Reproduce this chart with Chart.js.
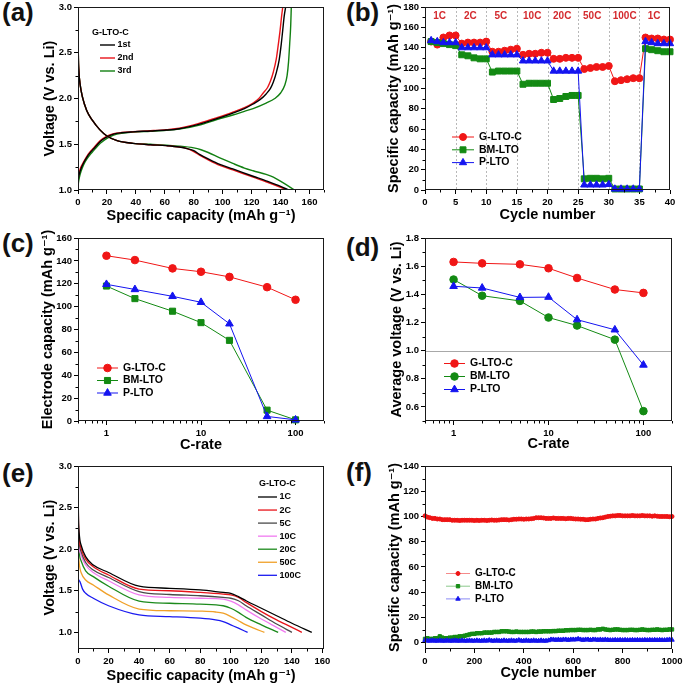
<!DOCTYPE html>
<html><head><meta charset="utf-8">
<script src="https://cdn.jsdelivr.net/npm/chart.js@4.4.1/dist/chart.umd.min.js"></script>
<style>
html,body{margin:0;padding:0;background:#fff;width:685px;height:687px;overflow:hidden;position:relative}
canvas{position:absolute;left:0;top:0}
.lbl{position:absolute;font:bold 26px "Liberation Sans",Arial,sans-serif;color:#111;line-height:26px;white-space:nowrap}
</style></head><body>
<div class="lbl" style="left:2px;top:-1px">(a)</div>
<div class="lbl" style="left:346px;top:-1px">(b)</div>
<div class="lbl" style="left:2px;top:230px">(c)</div>
<div class="lbl" style="left:346px;top:234px">(d)</div>
<div class="lbl" style="left:2px;top:460px">(e)</div>
<div class="lbl" style="left:346px;top:459px">(f)</div>
<canvas id="ca" width="685" height="687"></canvas>
<canvas id="cb" width="685" height="687"></canvas>
<canvas id="cc" width="685" height="687"></canvas>
<canvas id="cd" width="685" height="687"></canvas>
<canvas id="ce" width="685" height="687"></canvas>
<canvas id="cf" width="685" height="687"></canvas>
<script>
// ---------------- DATA ----------------
// (a) charge/discharge profiles of G-LTO-C, cycles 1-3
const aDis1Cap = [0, 0.2, 0.6, 1.5, 3, 6, 10, 15, 20, 27, 38, 50, 61, 70, 76, 80, 84, 90, 98, 107, 121, 130, 140, 145.5];
const aDis1V   = [2.9, 2.5, 2.3, 2.15, 2.02, 1.87, 1.76, 1.66, 1.59, 1.54, 1.51, 1.495, 1.485, 1.47, 1.45, 1.43, 1.39, 1.34, 1.28, 1.23, 1.15, 1.10, 1.04, 1.0];
const aDis2Cap = [0, 0.2, 0.6, 1.5, 3, 6, 10, 15, 20, 27, 38, 50, 61, 70, 76, 80, 84, 90, 98, 107, 121, 130, 140, 144.5];
const aDis2V   = [2.9, 2.5, 2.3, 2.15, 2.02, 1.87, 1.76, 1.66, 1.59, 1.54, 1.51, 1.495, 1.485, 1.47, 1.45, 1.42, 1.38, 1.33, 1.27, 1.22, 1.14, 1.09, 1.03, 1.0];
const aDis3Cap = [0, 0.2, 0.6, 1.5, 3, 6, 10, 15, 20, 27, 38, 50, 61, 70, 80, 85, 90, 98, 107, 115, 121, 130, 135, 141.6, 149.7];
const aDis3V   = [2.9, 2.5, 2.3, 2.15, 2.02, 1.87, 1.76, 1.66, 1.59, 1.54, 1.51, 1.50, 1.49, 1.48, 1.46, 1.44, 1.41, 1.35, 1.29, 1.24, 1.21, 1.17, 1.14, 1.08, 1.0];
const aChg1Cap = [0, 0.3, 1, 2, 4, 6.2, 8, 10.8, 15.4, 20, 24.6, 30, 38, 50, 61, 70, 84, 96, 107, 115, 121, 126, 130, 133, 135, 137, 139, 140.5, 141.5, 142.5, 143.5];
const aChg1V   = [1.08, 1.13, 1.18, 1.23, 1.30, 1.36, 1.40, 1.45, 1.53, 1.58, 1.61, 1.625, 1.635, 1.645, 1.655, 1.67, 1.72, 1.78, 1.84, 1.89, 1.94, 1.99, 2.05, 2.11, 2.18, 2.28, 2.42, 2.6, 2.75, 2.9, 3.0];
const aChg2Cap = [0, 0.3, 1, 2, 4, 6.2, 8, 10.8, 15.4, 20, 24.6, 30, 38, 50, 61, 70, 84, 96, 107, 115, 121, 125, 128, 131, 133, 135, 137, 138.5, 139.7, 140.7, 141.5];
const aChg2V   = [1.10, 1.15, 1.20, 1.25, 1.31, 1.37, 1.41, 1.46, 1.54, 1.59, 1.615, 1.628, 1.637, 1.648, 1.66, 1.675, 1.73, 1.79, 1.85, 1.90, 1.95, 2.0, 2.06, 2.12, 2.19, 2.29, 2.43, 2.6, 2.75, 2.9, 3.0];
const aChg3Cap = [0, 0.3, 1, 2, 4, 6.2, 8, 10.8, 15.4, 20, 24.6, 30, 38, 50, 61, 70, 84, 96, 107, 115, 121, 130, 136, 140, 143, 144.5, 145.5, 146.3, 147, 147.4];
const aChg3V   = [1.03, 1.08, 1.14, 1.2, 1.28, 1.34, 1.38, 1.43, 1.51, 1.565, 1.60, 1.62, 1.632, 1.642, 1.652, 1.665, 1.71, 1.77, 1.82, 1.86, 1.89, 1.95, 2.0, 2.06, 2.15, 2.25, 2.4, 2.6, 2.8, 3.0];
const aCycleNames = ['1st', '2nd', '3rd'];
const aXTicks = [0, 20, 40, 60, 80, 100, 120, 140, 160];
const aYTicks = [1.0, 1.5, 2.0, 2.5, 3.0];

// (b) rate capability vs cycle number
const bCycles = [1,2,3,4,5,6,7,8,9,10,11,12,13,14,15,16,17,18,19,20,21,22,23,24,25,26,27,28,29,30,31,32,33,34,35,36,37,38,39,40];
const bGLTOC = [146,143,150,152,152, 144,145,145,145,146, 136,136,137,138,139, 133,134,134,135,135, 129,129,130,130,130, 119,120,121,121,122, 107,108,109,110,110, 150,149,149,148,148];
const bBMLTO = [146,145,144,143,142, 133,132,130,129,129, 116,117,117,117,117, 104,105,105,105,105, 89,90,92,93,93, 11,11.5,11.5,11,11.5, 1,1,1,1,1, 139,138,137,136,136];
const bPLTO  = [147,146,145,145,145, 140,140,140,140,140, 133,133,133,133,133, 127,127,127,127,127, 117,117,117,117,117, 5,5,5,5,5.5, 1,1,1,1,1, 146,145,144,144,144];
const bRateLabels = ['1C', '2C', '5C', '10C', '20C', '50C', '100C', '1C'];
const bRateCenters = [2.4, 7.4, 12.4, 17.5, 22.4, 27.3, 32.6, 37.4];
const bRateBounds = [5, 10, 15, 20, 25, 30, 35];
const bXTicks = [0, 5, 10, 15, 20, 25, 30, 35, 40];
const bYTicks = [0, 20, 40, 60, 80, 100, 120, 140, 160, 180];

// (c) electrode capacity vs C-rate
const cRates = [1, 2, 5, 10, 20, 50, 100];
const cGLTOC = [144.5, 140.7, 133.4, 130.5, 126, 117, 106];
const cBMLTO = [118, 107, 96, 86, 70.5, 9.5, 1];
const cPLTO  = [119.5, 115, 109, 103.8, 85, 4, 1];
const cXTicks = [1, 10, 100];
const cYTicks = [0, 20, 40, 60, 80, 100, 120, 140, 160];

// (d) average voltage vs C-rate
const dGLTOC = [1.63, 1.62, 1.613, 1.585, 1.516, 1.434, 1.41];
const dBMLTO = [1.505, 1.39, 1.353, 1.235, 1.178, 1.078, 0.57];
const dPLTO  = [1.457, 1.445, 1.378, 1.38, 1.22, 1.148, 0.898];
const dXTicks = [1, 10, 100];
const dYTicks = [0.6, 0.8, 1.0, 1.2, 1.4, 1.6, 1.8];

// (e) discharge profiles of G-LTO-C at different rates
const eRates = ['1C', '2C', '5C', '10C', '20C', '50C', '100C'];
const e1Cap = [0, 0.3, 1, 2, 5, 10, 20, 40, 60, 80, 95, 100, 105, 110, 120, 130, 140, 153];
const e1V   = [2.9, 2.4, 2.15, 2.05, 1.91, 1.81, 1.72, 1.555, 1.53, 1.51, 1.48, 1.47, 1.43, 1.38, 1.29, 1.20, 1.11, 1.0];
const e2Cap = [0, 0.3, 1, 2, 5, 10, 20, 40, 60, 80, 95, 100, 105, 110, 120, 130, 140, 146.5];
const e2V   = [2.85, 2.35, 2.1, 2.01, 1.88, 1.79, 1.69, 1.52, 1.50, 1.48, 1.46, 1.45, 1.42, 1.36, 1.25, 1.15, 1.06, 1.0];
const e5Cap = [0, 0.3, 1, 2, 5, 10, 20, 40, 60, 80, 95, 100, 105, 110, 120, 130, 140];
const e5V   = [2.5, 2.25, 2.05, 1.97, 1.84, 1.75, 1.66, 1.49, 1.455, 1.44, 1.42, 1.41, 1.38, 1.32, 1.21, 1.10, 1.0];
const e10Cap = [0, 0.3, 1, 2, 5, 10, 20, 40, 60, 80, 95, 100, 105, 110, 120, 130, 136];
const e10V   = [2.6, 2.2, 2.0, 1.93, 1.81, 1.72, 1.62, 1.45, 1.42, 1.41, 1.40, 1.375, 1.33, 1.27, 1.16, 1.06, 1.0];
const e20Cap = [0, 0.3, 1, 2, 5, 10, 20, 40, 60, 80, 95, 100, 105, 110, 120, 131];
const e20V   = [2.35, 2.1, 1.93, 1.86, 1.74, 1.67, 1.555, 1.375, 1.35, 1.34, 1.32, 1.29, 1.24, 1.18, 1.09, 1.0];
const e50Cap = [0, 0.3, 1, 2, 5, 10, 20, 40, 60, 80, 90, 95, 100, 105, 110, 115, 122];
const e50V   = [2.15, 1.95, 1.8, 1.72, 1.63, 1.57, 1.45, 1.28, 1.26, 1.255, 1.245, 1.23, 1.19, 1.14, 1.09, 1.05, 1.0];
const e100Cap = [0, 0.5, 1.5, 3, 5, 10, 20, 40, 60, 80, 90, 95, 100, 105, 111];
const e100V   = [1.65, 1.63, 1.6, 1.52, 1.47, 1.41, 1.32, 1.21, 1.19, 1.17, 1.15, 1.13, 1.09, 1.05, 1.0];
const eXTicks = [0, 20, 40, 60, 80, 100, 120, 140, 160];
const eYTicks = [1.0, 1.5, 2.0, 2.5, 3.0];

// (f) long-term cycling (every 10th cycle)
const fCycles = [0,10,20,30,40,50,60,70,80,90,
  100,110,120,130,140,150,160,170,180,190,
  200,210,220,230,240,250,260,270,280,290,
  300,310,320,330,340,350,360,370,380,390,
  400,410,420,430,440,450,460,470,480,490,
  500,510,520,530,540,550,560,570,580,590,
  600,610,620,630,640,650,660,670,680,690,
  700,710,720,730,740,750,760,770,780,790,
  800,810,820,830,840,850,860,870,880,890,
  900,910,920,930,940,950,960,970,980,990,1000];
const fGLTOC = [100.5,99.5,99,98.5,98.5,98,98,97.5,97.5,97.5,
  97.5,97,97,97,96.8,97,97,97,97,97,
  96.8,97,96.8,97,97,96.8,97,97.2,97,97,
  97.2,97.5,97.5,97.5,97.2,97.5,97.8,97.8,98,98,
  97.8,98,98,98.2,98.5,99,99,99,98.8,98.5,
  98.5,98.5,98.8,98.5,98.5,98.5,98.5,98.2,98.5,98.5,
  98.2,98,98,97.8,97.8,97.5,97.5,97.8,98,98,
  98.5,98.8,99,99.5,100,100.2,100.5,100.5,100.8,100.8,
  100.5,100.5,100.5,100.5,100.8,100.5,100.5,100.5,100.8,100.5,
  100.5,100.5,100.2,100.5,100.2,100,100,100,100,99.8,100];
const fBMLTO = [3,3.5,3,3,3.5,3.5,5,4,3.5,3.5,
  4,4,4.5,4.5,5,5,5.5,6,6.5,7,
  7,7.5,7.5,7.5,8,8,8,8,8.5,8.5,
  8.5,9,9,9,8.8,8.5,8.5,8.8,8.5,8.5,
  8.5,8.5,8.5,8.8,8.8,8.5,8.8,8.8,9,9,
  9,9,9.2,9.2,9.5,9.5,9.5,9.8,9.8,10,
  10,10,10.2,10.2,10,10,10,10.2,10,10,
  10.5,10.5,11,10.5,10.2,10,10.2,10.5,10.5,10.2,
  10,10,10,10.2,10.2,10,10,10.2,10.5,10.2,
  10,10,10.2,10.2,10.5,10.2,10,10.2,10.2,10.5,10.5];
const fPLTO = [2,1.5,1.5,1.8,1.5,1.5,1.8,1.5,1.5,1.8,
  1.5,1.5,1.8,1.5,1.5,1.8,1.5,1.5,1.8,1.5,
  1.5,1.8,1.5,1.5,1.8,1.5,2,1.5,1.5,1.8,
  1.5,1.5,1.8,1.5,1.5,1.8,1.5,1.5,2,1.5,
  1.5,1.8,1.5,1.5,1.8,1.5,1.5,1.8,1.5,1.5,
  1.8,2.5,2.5,2.2,2.5,2.2,2.5,2.5,2.2,2.5,
  2.5,2.5,3,2.5,2.2,2.5,2.5,2.2,2.5,2.5,
  2.2,2.5,2.2,2.5,2.2,2,2,2.2,2,2.2,
  2,2.2,2,2,2.2,2,2.2,2,2,2.2,
  2,2.2,2,2.2,2,2.2,2,2,2.2,2.5,2.2];
const fXTicks = [0, 200, 400, 600, 800, 1000];
const fYTicks = [0, 20, 40, 60, 80, 100, 120, 140];

const sampleNames = ['G-LTO-C', 'BM-LTO', 'P-LTO'];

// ---------------- STYLE / HELPERS ----------------
const FONT = '"Liberation Sans", Arial, "DejaVu Sans", sans-serif';
Chart.defaults.font.family = FONT;
Chart.defaults.color = '#000';
const RED = '#f01616', GREEN = '#138a13', BLUE = '#1414f0';
const TITLE_SIZE = 14.5, TICK_SIZE = 9.5;

function pts(xs, ys) { return xs.map((x, i) => ({x: x, y: ys[i]})); }

function drawMarker(ctx, style, x, y, r, fill) {
  ctx.save();
  ctx.fillStyle = fill; ctx.strokeStyle = fill; ctx.lineWidth = 1; ctx.setLineDash([]);
  ctx.beginPath();
  if (style === 'rect') { const s = r * Math.SQRT1_2; ctx.rect(x - s, y - s, 2 * s, 2 * s); }
  else if (style === 'triangle') { ctx.moveTo(x, y - r); ctx.lineTo(x + r * 0.866, y + r * 0.5); ctx.lineTo(x - r * 0.866, y + r * 0.5); ctx.closePath(); }
  else { ctx.arc(x, y, r, 0, Math.PI * 2); }
  ctx.fill(); ctx.stroke();
  ctx.restore();
}

function minorValues(s, step) {
  if (!step) return [];
  const out = [];
  if (step === 'log') {
    for (let e = -2; e <= 4; e++) for (let m = 2; m <= 9; m++) {
      const v = m * Math.pow(10, e);
      if (v >= s.min - 1e-9 && v <= s.max + 1e-9) out.push(v);
    }
    return out;
  }
  const majors = s.ticks.map(t => t.value);
  const start = Math.ceil(s.min / step - 1e-9);
  for (let k = start; k * step <= s.max + 1e-9; k++) {
    const v = +(k * step).toFixed(6);
    if (!majors.some(m => Math.abs(m - v) < 1e-6)) out.push(v);
  }
  return out;
}

function drawLegend(ctx, chart, L) {
  ctx.save();
  ctx.font = 'bold ' + L.size + 'px ' + FONT;
  ctx.textBaseline = 'middle'; ctx.textAlign = 'left';
  if (L.title) { ctx.fillStyle = '#000'; ctx.fillText(L.title, L.titleX, L.titleY); }
  const items = chart.data.datasets.filter(d => !d.noLegend);
  items.forEach((d, i) => {
    const y = L.y0 + i * L.dy;
    ctx.strokeStyle = d.legendLine || d.borderColor; ctx.lineWidth = L.lw || 1;
    ctx.beginPath(); ctx.moveTo(L.x0, y); ctx.lineTo(L.x1, y); ctx.stroke();
    if (L.markers) drawMarker(ctx, d.pointStyle, (L.x0 + L.x1) / 2, y, d.pointRadius, d.backgroundColor);
    ctx.fillStyle = '#000'; ctx.fillText(d.label, L.tx, y);
  });
  ctx.restore();
}

const deco = {
  id: 'deco',
  beforeDatasetsDraw(chart, args, o) {
    const ctx = chart.ctx, ca = chart.chartArea, xs = chart.scales.x, ys = chart.scales.y;
    ctx.save(); ctx.lineWidth = 1;
    if (o.vlines) {
      ctx.strokeStyle = '#b8b8b8'; ctx.setLineDash([2, 2]);
      o.vlines.forEach(v => { const p = Math.round(xs.getPixelForValue(v)) + 0.5; ctx.beginPath(); ctx.moveTo(p, ca.top); ctx.lineTo(p, ca.bottom); ctx.stroke(); });
      ctx.setLineDash([]);
    }
    if (o.hlines) {
      ctx.strokeStyle = '#a8a8a8';
      o.hlines.forEach(v => { const p = Math.round(ys.getPixelForValue(v)) + 0.5; ctx.beginPath(); ctx.moveTo(ca.left, p); ctx.lineTo(ca.right, p); ctx.stroke(); });
    }
    ctx.restore();
  },
  afterDraw(chart, args, o) {
    const ctx = chart.ctx, ca = chart.chartArea, xs = chart.scales.x, ys = chart.scales.y;
    ctx.save();
    ctx.strokeStyle = '#000'; ctx.lineWidth = 1;
    minorValues(xs, o.xMinor).forEach(v => { const p = Math.round(xs.getPixelForValue(v)) + 0.5; ctx.beginPath(); ctx.moveTo(p, ca.bottom); ctx.lineTo(p, ca.bottom + 2.5); ctx.stroke(); });
    minorValues(ys, o.yMinor).forEach(v => { const p = Math.round(ys.getPixelForValue(v)) + 0.5; ctx.beginPath(); ctx.moveTo(ca.left, p); ctx.lineTo(ca.left - 2.5, p); ctx.stroke(); });
    ctx.strokeStyle = '#1a1a1a';
    ctx.strokeRect(Math.round(ca.left) + 0.5, Math.round(ca.top) + 0.5, Math.round(ca.right - ca.left) - 1, Math.round(ca.bottom - ca.top) - 1);
    if (o.texts) {
      ctx.font = 'bold ' + o.texts.size + 'px ' + FONT;
      ctx.fillStyle = o.texts.color; ctx.textAlign = 'center'; ctx.textBaseline = 'middle';
      o.texts.labels.forEach((t, i) => ctx.fillText(t, xs.getPixelForValue(o.texts.xs[i]), ys.getPixelForValue(o.texts.y)));
    }
    if (o.legend) drawLegend(ctx, chart, o.legend);
    ctx.restore();
  }
};
Chart.register(deco);

function makeChart(id, g, datasets, sc, decoOpts) {
  const lh = TITLE_SIZE * 1.2;
  const cL = g.tx - lh / 2, cB = g.ty + lh / 2;
  const common = {
    grid: {display: true, drawOnChartArea: false, drawTicks: true, tickLength: 4, tickColor: '#000', tickWidth: 1},
    border: {display: false},
  };
  const x = Object.assign({}, common, {
    type: sc.xType || 'linear', position: 'bottom', min: sc.xMin, max: sc.xMax,
    ticks: {font: {size: TICK_SIZE, weight: 'bold'}, color: '#000', padding: 3, maxRotation: 0, autoSkip: false,
      callback: v => sc.xFmt ? sc.xFmt(v) : String(v)},
    title: {display: true, text: sc.xTitle, font: {size: TITLE_SIZE, weight: 'bold'}, padding: 0, color: '#000'},
    afterBuildTicks: s => { s.ticks = sc.xTicks.map(v => ({value: v})); },
    afterFit: s => { s.height = cB - g.B; s.paddingLeft = s.paddingRight = s.paddingTop = s.paddingBottom = 0; }
  });
  const y = Object.assign({}, common, {
    type: 'linear', position: 'left', min: sc.yMin, max: sc.yMax,
    ticks: {font: {size: TICK_SIZE, weight: 'bold'}, color: '#000', padding: 2, autoSkip: false,
      callback: v => sc.yFmt ? sc.yFmt(v) : String(v)},
    title: {display: true, text: sc.yTitle, font: {size: TITLE_SIZE, weight: 'bold'}, padding: 0, color: '#000'},
    afterBuildTicks: s => { s.ticks = sc.yTicks.map(v => ({value: v})); },
    afterFit: s => { s.width = g.L - cL; s.paddingLeft = s.paddingRight = s.paddingTop = s.paddingBottom = 0; }
  });
  return new Chart(document.getElementById(id), {
    type: 'line',
    data: {datasets: datasets},
    options: {
      responsive: false, animation: false, devicePixelRatio: 1,
      layout: {padding: {left: cL, top: g.T, right: 685 - g.R, bottom: 687 - cB}},
      scales: {x: x, y: y},
      plugins: {legend: {display: false}, tooltip: {enabled: false}, deco: decoOpts},
      elements: {line: {tension: 0}},
    }
  });
}

function curve(label, xs, ys, color, extra) {
  return Object.assign({label: label, data: pts(xs, ys), borderColor: color, backgroundColor: color,
    borderWidth: 1.4, pointRadius: 0, cubicInterpolationMode: 'monotone', fill: false}, extra || {});
}
function series(label, xs, ys, color, style, r, order, extra) {
  return Object.assign({label: label, data: pts(xs, ys), borderColor: color, backgroundColor: color,
    borderWidth: 1, pointStyle: style, pointRadius: r, pointBorderWidth: 1, pointBorderColor: color,
    fill: false, clip: false, order: order}, extra || {});
}

const capTitle = 'Specific capacity (mAh g\u207B\u00B9)';
const f1 = v => Number(v).toFixed(1);

// (a)
makeChart('ca', {L: 78, R: 324, T: 7, B: 190, tx: 50, ty: 216}, [
  curve(aCycleNames[0], aDis1Cap, aDis1V, '#000000'),
  curve(aCycleNames[1], aDis2Cap, aDis2V, '#e8141a'),
  curve(aCycleNames[2], aDis3Cap, aDis3V, '#128012'),
  curve(aCycleNames[0], aChg1Cap, aChg1V, '#000000', {noLegend: true}),
  curve(aCycleNames[1], aChg2Cap, aChg2V, '#e8141a', {noLegend: true}),
  curve(aCycleNames[2], aChg3Cap, aChg3V, '#128012', {noLegend: true}),
], {xMin: 0, xMax: 170, yMin: 1, yMax: 3, xTicks: aXTicks, yTicks: aYTicks, yFmt: f1,
    xTitle: capTitle, yTitle: 'Voltage (V vs. Li)'},
  {xMinor: 10, yMinor: 0.25,
   legend: {size: 9, title: 'G-LTO-C', titleX: 92, titleY: 32.5, x0: 100, x1: 115, tx: 117.5, y0: 45, dy: 13, lw: 1.4}});

// (b)
makeChart('cb', {L: 425, R: 670, T: 7, B: 190, tx: 394, ty: 215}, [
  series(sampleNames[0], bCycles, bGLTOC, RED, 'circle', 3.5, 2),
  series(sampleNames[1], bCycles, bBMLTO, GREEN, 'rect', 4.2, 1),
  series(sampleNames[2], bCycles, bPLTO, BLUE, 'triangle', 4.2, 0),
], {xMin: 0, xMax: 40, yMin: 0, yMax: 180, xTicks: bXTicks, yTicks: bYTicks,
    xTitle: 'Cycle number', yTitle: capTitle},
  {xMinor: 2.5, yMinor: 10, vlines: bRateBounds,
   texts: {labels: bRateLabels, xs: bRateCenters, y: 170.5, size: 10, color: '#d42a2e'},
   legend: {size: 10.5, markers: true, x0: 452, x1: 474, tx: 479, y0: 137, dy: 12.8}});

// (c)
makeChart('cc', {L: 78, R: 324, T: 238, B: 421, tx: 48, ty: 445}, [
  series(sampleNames[0], cRates, cGLTOC, RED, 'circle', 3.8, 2),
  series(sampleNames[1], cRates, cBMLTO, GREEN, 'rect', 4.3, 1),
  series(sampleNames[2], cRates, cPLTO, BLUE, 'triangle', 4.4, 0),
], {xType: 'logarithmic', xMin: 0.5, xMax: 200, yMin: 0, yMax: 160, xTicks: cXTicks, yTicks: cYTicks,
    xTitle: 'C-rate', yTitle: 'Electrode capacity (mAh g\u207B\u00B9)'},
  {xMinor: 'log', yMinor: 10,
   legend: {size: 10.5, markers: true, x0: 97, x1: 118, tx: 123, y0: 368, dy: 12.5}});

// (d)
makeChart('cd', {L: 425, R: 672, T: 238, B: 421, tx: 397, ty: 444}, [
  series(sampleNames[0], cRates, dGLTOC, RED, 'circle', 3.8, 2),
  series(sampleNames[1], cRates, dBMLTO, GREEN, 'circle', 3.8, 1),
  series(sampleNames[2], cRates, dPLTO, BLUE, 'triangle', 4.4, 0),
], {xType: 'logarithmic', xMin: 0.5, xMax: 200, yMin: 0.5, yMax: 1.8, xTicks: dXTicks, yTicks: dYTicks, yFmt: f1,
    xTitle: 'C-rate', yTitle: 'Average voltage (V vs. Li)'},
  {xMinor: 'log', yMinor: 0.1, hlines: [1.0],
   legend: {size: 10.5, markers: true, x0: 444, x1: 465, tx: 470, y0: 363.5, dy: 13}});

// (e)
const eColors = ['#000000', '#e8141a', '#4a4a4a', '#f07af0', '#1c8a1c', '#f0a028', '#1a1af0'];
makeChart('ce', {L: 78, R: 324, T: 466, B: 649, tx: 50, ty: 676}, [
  curve(eRates[0], e1Cap, e1V, eColors[0], {borderWidth: 1.3}),
  curve(eRates[1], e2Cap, e2V, eColors[1], {borderWidth: 1.3}),
  curve(eRates[2], e5Cap, e5V, eColors[2], {borderWidth: 1.3}),
  curve(eRates[3], e10Cap, e10V, eColors[3], {borderWidth: 1.3}),
  curve(eRates[4], e20Cap, e20V, eColors[4], {borderWidth: 1.3}),
  curve(eRates[5], e50Cap, e50V, eColors[5], {borderWidth: 1.3}),
  curve(eRates[6], e100Cap, e100V, eColors[6], {borderWidth: 1.3}),
], {xMin: 0, xMax: 161, yMin: 0.8, yMax: 3.0, xTicks: eXTicks, yTicks: eYTicks, yFmt: f1,
    xTitle: capTitle, yTitle: 'Voltage (V vs. Li)'},
  {xMinor: 10, yMinor: 0.25,
   legend: {size: 9, title: 'G-LTO-C', titleX: 259, titleY: 483.5, x0: 258, x1: 277, tx: 279.5, y0: 497, dy: 13.05, lw: 1.3}});

// (f)
makeChart('cf', {L: 425, R: 672, T: 466, B: 649, tx: 395, ty: 673}, [
  series(sampleNames[0], fCycles, fGLTOC, '#ee1414', 'circle', 2, 2, {borderWidth: 3.5, legendLine: '#f58a8a'}),
  series(sampleNames[1], fCycles, fBMLTO, '#158c15', 'rect', 2.4, 1, {borderWidth: 3.5, legendLine: '#8cc88c'}),
  series(sampleNames[2], fCycles, fPLTO, '#1414ee', 'triangle', 2.6, 0, {borderWidth: 3.5, legendLine: '#8a8af5'}),
], {xMin: 0, xMax: 1000, yMin: -5, yMax: 140, xTicks: fXTicks, yTicks: fYTicks,
    xTitle: 'Cycle number', yTitle: capTitle},
  {xMinor: 100, yMinor: 10,
   legend: {size: 10, markers: true, x0: 446, x1: 470, tx: 475, y0: 573.5, dy: 12.7}});
</script>
</body></html>
